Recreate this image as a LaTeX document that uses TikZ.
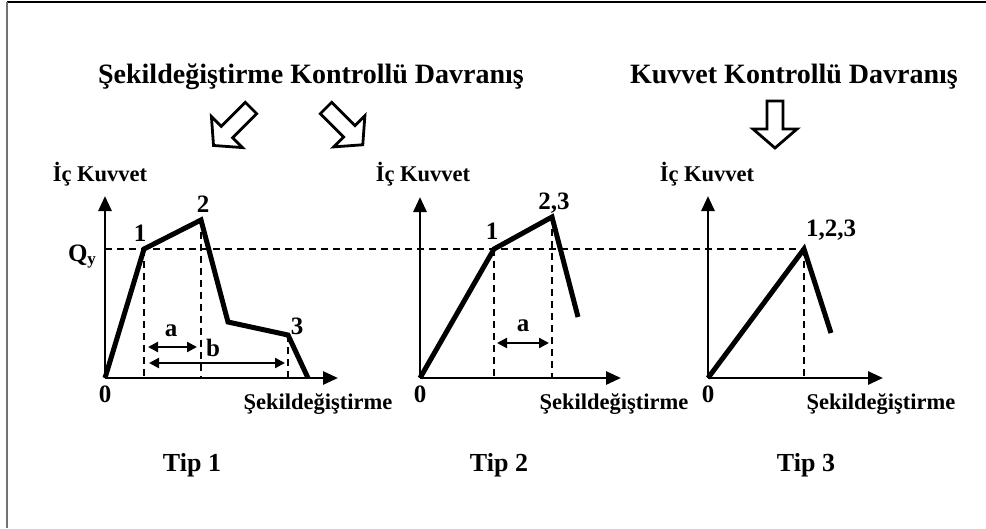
\documentclass[tikz,border=0pt]{standalone}
\usepackage{fontspec}
\setmainfont{Liberation Serif}
\usetikzlibrary{arrows.meta}

% hollow block arrow: tail point, direction angle, length
\newcommand\openarrow[3]{%
  \begin{scope}[shift={#1},rotate=#2]
    \draw[hollow] (0,-8) -- ({#3-19},-8) -- ({#3-19},-22) -- (#3,0)
      -- ({#3-19},22) -- ({#3-19},8) -- (0,8) -- cycle;
  \end{scope}}

\begin{document}
\begin{tikzpicture}[x=1pt,y=-1pt,
  curve/.style={line width=5pt, line join=miter},
  axis/.style={line width=2.8pt, -{Triangle[length=15pt,width=13pt]}},
  guide/.style={line width=1.7pt, dash pattern=on 7pt off 5pt},
  span/.style={line width=2.2pt, {Triangle[length=10pt,width=10pt]}-{Triangle[length=10pt,width=10pt]}},
  hollow/.style={line width=2.8pt, line join=miter, fill=white},
  lbl/.style={font=\fontsize{22.5}{24}\selectfont\bfseries, inner sep=0pt, anchor=base},
  num/.style={font=\fontsize{25}{26}\selectfont\bfseries, inner sep=0pt, anchor=base},
  head/.style={font=\fontsize{28}{30}\selectfont\bfseries, inner sep=0pt, anchor=base},
  tiplbl/.style={font=\fontsize{26}{28}\selectfont\bfseries, inner sep=0pt, anchor=base},
]
\useasboundingbox (0,0) rectangle (986,528);
\fill[white] (0,0) rectangle (986,528);

% frame
\draw[line width=2pt] (7,2) -- (986,2);
\draw[line width=2pt, black!55] (7,2) -- (7,528);

% headings
\node[head] (t1) at (311,83) {Şekildeğiştirme Kontrollü Davranış};
\node[head] (t2) at (794,83) {Kuvvet Kontrollü Davranış};

% block arrows
\openarrow{(251,108)}{225}{53}
\openarrow{(326,108)}{-45}{52}
\openarrow{(775,101)}{-90}{47}

% chart points
\coordinate (o1) at (105,378);  \coordinate (y1) at (105,196);  \coordinate (x1) at (338,378);
\coordinate (p11) at (144,249); \coordinate (p12) at (201,220); \coordinate (p1k) at (228,322);
\coordinate (p13) at (288,335); \coordinate (p1e) at (308,378);

\coordinate (o2) at (420,378);  \coordinate (y2) at (420,197);  \coordinate (x2) at (621,378);
\coordinate (p21) at (494,249); \coordinate (p22) at (552,217); \coordinate (p2e) at (578,317);

\coordinate (o3) at (708,378);  \coordinate (y3) at (708,196);  \coordinate (x3) at (883,378);
\coordinate (p31) at (804,249); \coordinate (p3e) at (831,333);

% yield level and projections
\draw[guide] (o1 |- p11) -- (p31);
\draw[guide] (p11) -- (p11 |- o1);
\draw[guide] (p12) -- (p12 |- o1);
\draw[guide] (p13) -- (p13 |- o1);
\draw[guide] (p21) -- (p21 |- o2);
\draw[guide] (p22) -- (p22 |- o2);
\draw[guide] (p31) -- (p31 |- o3);

% axes
\foreach \i in {1,2,3} {
  \draw[axis] (o\i) -- (y\i);
  \draw[axis] (o\i) -- (x\i);
}

% response curves
\draw[curve] (o1) -- (p11) -- (p12) -- (p1k) -- (p13) -- (p1e);
\draw[curve] (o2) -- (p21) -- (p22) -- (p2e);
\draw[curve] (o3) -- (p31) -- (p3e);

% deformation spans
\coordinate (a1s) at (148,347); \coordinate (a1e) at (197,347);
\coordinate (b1s) at (149,363); \coordinate (b1e) at (285,363);
\coordinate (a2s) at (497,343); \coordinate (a2e) at (549,343);
\draw[span] (a1s) -- (a1e);
\draw[span] (b1s) -- (b1e);
\draw[span] (a2s) -- (a2e);

% labels
\node[lbl] (ik1) at (100,181) {İç Kuvvet};
\node[lbl] (ik2) at (423,181) {İç Kuvvet};
\node[lbl] (ik3) at (707,181) {İç Kuvvet};

\node[lbl] (sd1) at (318,409) {Şekildeğiştirme};
\node[lbl] (sd2) at (614,409) {Şekildeğiştirme};
\node[lbl] (sd3) at (881,409) {Şekildeğiştirme};

\node[num] (z1) at (105,402) {0};
\node[num] (z2) at (420,402) {0};
\node[num] (z3) at (708,402) {0};

\node[num] (qy) at (82,261) {Q\raisebox{-0.3ex}{\fontsize{17}{17}\selectfont y}};

\node[num] (n11) at (140,241) {1};
\node[num] (n12) at (203,212) {2};
\node[num] (n13) at (297,334) {3};
\node[num] (n21) at (492,239) {1};
\node[num] (n22) at (554,209) {2,3};
\node[num] (n31) at (831,236) {1,2,3};

\node[num] (la1) at (171,336) {a};
\node[num] (lb1) at (213,356) {b};
\node[num] (la2) at (523,331) {a};

\node[tiplbl] (tp1) at (192,471) {Tip 1};
\node[tiplbl] (tp2) at (499,471) {Tip 2};
\node[tiplbl] (tp3) at (806,471) {Tip 3};
\end{tikzpicture}
\end{document}
